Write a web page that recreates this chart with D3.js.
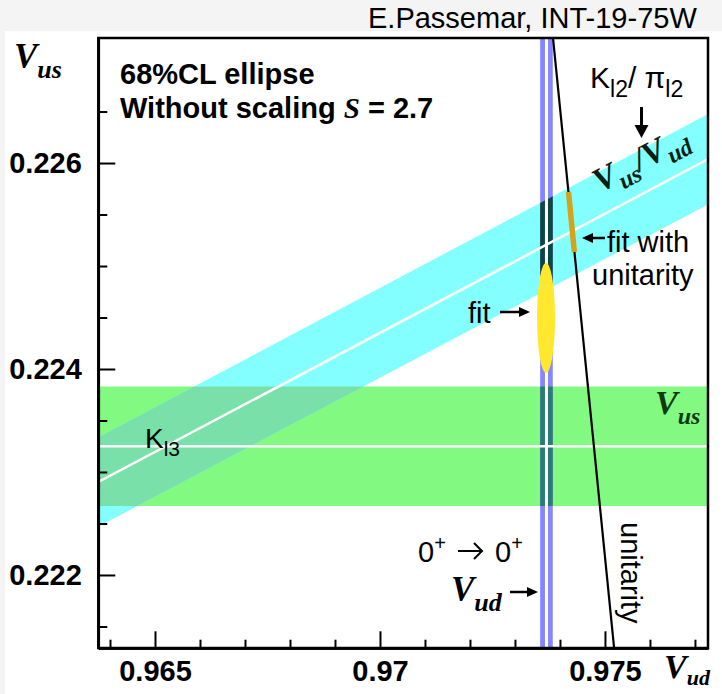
<!DOCTYPE html>
<html>
<head>
<meta charset="utf-8">
<script src="https://cdn.jsdelivr.net/npm/d3@7/dist/d3.min.js"></script>
<style>
  html, body { margin: 0; padding: 0; background: #f4f4f4; }
  svg { display: block; }
</style>
</head>
<body>
<svg id="chart" width="722" height="694"></svg>
<script>
// ---- axis ranges and ticks ----
const vudDomain = [0.96374, 0.97729];
const vusDomain = [0.221291, 0.227214];
const xMajorTicks = [0.965, 0.970, 0.975];
const xTickLabels = ["0.965", "0.97", "0.975"];
const xMinorTicks = [0.964, 0.966, 0.967, 0.968, 0.969, 0.971, 0.972, 0.973, 0.974, 0.976, 0.977];
const yMajorTicks = [0.222, 0.224, 0.226];
const yTickLabels = ["0.222", "0.224", "0.226"];
const yMinorTicks = [0.2215, 0.2225, 0.223, 0.2235, 0.2245, 0.225, 0.2255, 0.2265];

// ---- constraints: [central value, 1 sigma] ----
const kl3Vus = [0.22325, 0.00058];          // K_l3 -> |Vus|
const kl2Ratio = [0.23129, 0.00045];        // K_l2 / pi_l2 -> |Vus/Vud|
const superallowedVud = [0.97370, 0.00014]; // 0+ -> 0+ -> |Vud|

// 68% CL fit ellipse: centre [Vud, Vus] and half-axes [Vud, Vus]
const fitCenter = [0.97369, 0.224495];
const fitHalfAxes = [0.00020, 0.000534];

// unitarity line |Vud|^2 + |Vus|^2 = 1 across the window
const unitarityVud = [0.97378, 0.97527];
const unitarityVus = [0.2275, 0.2210];

// fit constrained by unitarity (segment on the unitarity line)
const unitarityFitVud = [0.97419, 0.97432];
const unitarityFitVus = [0.225718, 0.225136];

const SANS = "'Liberation Sans', Arial, Helvetica, sans-serif";
const SERIF = "'Liberation Serif', 'Times New Roman', serif";

const svg = d3.select("#chart");
svg.append("rect").attr("x", 0).attr("y", 0).attr("width", 722).attr("height", 694).attr("fill", "#f4f4f4");
svg.append("rect").attr("x", 5).attr("y", 31).attr("width", 717).attr("height", 663).attr("fill", "#ffffff");

const x = d3.scaleLinear().domain(vudDomain).range([98.3, 708]);
const y = d3.scaleLinear().domain(vusDomain).range([648, 38]);
const [xL, xR] = x.range();
const [yB, yT] = y.range();

const defs = svg.append("defs");
defs.append("clipPath").attr("id", "plotClip")
  .append("rect").attr("x", xL).attr("y", yT).attr("width", xR - xL).attr("height", yB - yT);

// band of |Vus/Vud| = r +- dr
const vEnds = [vudDomain[0] - 0.001, vudDomain[1] + 0.001];
const hi = kl2Ratio[0] + kl2Ratio[1], lo = kl2Ratio[0] - kl2Ratio[1];
const cyanPts = [[vEnds[0], hi * vEnds[0]], [vEnds[1], hi * vEnds[1]],
                 [vEnds[1], lo * vEnds[1]], [vEnds[0], lo * vEnds[0]]];
const lineXY = d3.line().x(d => x(d[0])).y(d => y(d[1]));
const cyanPath = lineXY(cyanPts) + "Z";
defs.append("clipPath").attr("id", "cyanClip").append("path").attr("d", cyanPath);

const greenY0 = y(kl3Vus[0] + kl3Vus[1]), greenY1 = y(kl3Vus[0] - kl3Vus[1]);
defs.append("clipPath").attr("id", "greenClip")
  .append("rect").attr("x", xL - 5).attr("y", greenY0).attr("width", xR - xL + 10).attr("height", greenY1 - greenY0);

const plot = svg.append("g").attr("clip-path", "url(#plotClip)");

// K_l3 band
function greenRect(g, fill) {
  g.append("rect").attr("x", xL - 5).attr("y", greenY0)
    .attr("width", xR - xL + 10).attr("height", greenY1 - greenY0).attr("fill", fill);
}
greenRect(plot, "#82fa82");
// K_l2 / pi_l2 band
plot.append("path").attr("d", cyanPath).attr("fill", "#84ffff");
greenRect(plot.append("g").attr("clip-path", "url(#cyanClip)"), "#78e0a8");

// superallowed 0+ -> 0+ band
const vx0 = x(superallowedVud[0] - superallowedVud[1]);
const vx1 = x(superallowedVud[0] + superallowedVud[1]);
function vertRect(g, fill) {
  g.append("rect").attr("x", vx0).attr("y", yT - 5).attr("width", vx1 - vx0)
    .attr("height", yB - yT + 10).attr("fill", fill);
}
vertRect(plot, "#8686ff");
vertRect(plot.append("g").attr("clip-path", "url(#cyanClip)"), "#0e4646");
vertRect(plot.append("g").attr("clip-path", "url(#greenClip)"), "#2c7c74");

// central values
plot.append("line").attr("x1", xL - 5).attr("x2", xR + 5)
  .attr("y1", y(kl3Vus[0])).attr("y2", y(kl3Vus[0]))
  .attr("stroke", "#fff").attr("stroke-width", 2.5);
plot.append("path")
  .attr("d", lineXY([[vEnds[0], kl2Ratio[0] * vEnds[0]], [vEnds[1], kl2Ratio[0] * vEnds[1]]]))
  .attr("stroke", "#fff").attr("stroke-width", 2.5).attr("fill", "none");
plot.append("line").attr("x1", x(superallowedVud[0])).attr("x2", x(superallowedVud[0]))
  .attr("y1", yT - 5).attr("y2", yB + 5).attr("stroke", "#fff").attr("stroke-width", 3);

// unitarity
plot.append("path")
  .attr("d", lineXY(d3.zip(unitarityVud, unitarityVus)))
  .attr("stroke", "#000").attr("stroke-width", 2.2).attr("fill", "none");
plot.append("path")
  .attr("d", lineXY(d3.zip(unitarityFitVud, unitarityFitVus)))
  .attr("stroke", "#d4a31c").attr("stroke-width", 5.5).attr("fill", "none");

// fit ellipse
plot.append("ellipse")
  .attr("cx", x(fitCenter[0])).attr("cy", y(fitCenter[1]))
  .attr("rx", x(fitCenter[0] + fitHalfAxes[0]) - x(fitCenter[0]))
  .attr("ry", y(fitCenter[1] - fitHalfAxes[1]) - y(fitCenter[1]))
  .attr("fill", "#ffe82e");

// ---- axes ----
function styleAxis(g) {
  g.select(".domain").attr("stroke", "#000").attr("stroke-width", 2.5);
  g.selectAll(".tick line").attr("stroke", "#000").attr("stroke-width", 2);
  g.selectAll(".tick text").attr("font-family", SANS).attr("font-size", 29)
    .attr("font-weight", "bold").attr("fill", "#000");
}
svg.append("g").attr("transform", `translate(0,${yB})`)
  .call(d3.axisBottom(x).tickValues(xMinorTicks).tickSize(-8.3).tickSizeOuter(0).tickFormat(""))
  .call(styleAxis);
svg.append("g").attr("transform", `translate(0,${yB})`)
  .call(d3.axisBottom(x).tickValues(xMajorTicks).tickSize(-16.7).tickSizeOuter(0)
    .tickPadding(12).tickFormat((d, i) => xTickLabels[i]))
  .call(styleAxis);
svg.append("g").attr("transform", `translate(${xL},0)`)
  .call(d3.axisLeft(y).tickValues(yMinorTicks).tickSize(-9).tickSizeOuter(0).tickFormat(""))
  .call(styleAxis);
svg.append("g").attr("transform", `translate(${xL},0)`)
  .call(d3.axisLeft(y).tickValues(yMajorTicks).tickSize(-17).tickSizeOuter(0)
    .tickPadding(16.5).tickFormat((d, i) => yTickLabels[i]))
  .call(styleAxis);

svg.append("rect").attr("x", xL).attr("y", yT).attr("width", xR - xL).attr("height", yB - yT)
  .attr("fill", "none").attr("stroke", "#000").attr("stroke-width", 2.5);

// ---- annotations ----
function label(x0, y0, parts, opts = {}) {
  const t = svg.append("text").attr("x", x0).attr("y", y0).attr("fill", opts.fill || "#000");
  if (opts.transform) t.attr("transform", opts.transform);
  let shift = 0;
  parts.forEach(p => {
    const s = t.append("tspan").text(p.t)
      .attr("font-size", p.size || 29)
      .attr("font-family", p.serif ? SERIF : SANS)
      .attr("font-weight", p.bold ? "bold" : "normal")
      .attr("font-style", p.italic ? "italic" : "normal");
    const sh = p.sh || 0;
    if (sh !== shift) s.attr("dy", sh - shift);
    shift = sh;
    if (p.dx) s.attr("dx", p.dx);
    if (p.fill) s.attr("fill", p.fill);
  });
  return t;
}
function arrow(x1, y1, x2, y2, w, len, half) {
  const a = Math.atan2(y2 - y1, x2 - x1);
  const bx = x2 - len * Math.cos(a), by = y2 - len * Math.sin(a);
  svg.append("line").attr("x1", x1).attr("y1", y1).attr("x2", bx).attr("y2", by)
    .attr("stroke", "#000").attr("stroke-width", w);
  const px = -Math.sin(a) * half, py = Math.cos(a) * half;
  svg.append("path")
    .attr("d", `M${x2},${y2}L${bx + px},${by + py}L${bx - px},${by - py}Z`)
    .attr("fill", "#000");
}
const V = (t, size) => ({ t, size, serif: true, bold: true, italic: true });
const sub = (t, size, sh) => ({ t, size, sh, serif: true, bold: true, italic: true });

label(368, 28, [{ t: "E.Passemar, INT-19-75W" }]);
label(14, 68, [V("V", 35), sub("us", 26, 10)]);
label(120, 84, [{ t: "68%CL ellipse", bold: true }]);
label(120, 118, [{ t: "Without scaling ", bold: true }, V("S", 29), { t: " = 2.7", bold: true }]);

label(590, 88, [{ t: "K", size: 30 }, { t: "l2", size: 23, sh: 9 }, { t: "/ π", size: 30, sh: 0 }, { t: "l2", size: 23, sh: 9 }]);
arrow(641.5, 107, 641.5, 138, 3, 13, 7);
label(0, 0, [V("V", 34), sub("us", 24, 8), { t: "/", size: 34, serif: true, bold: true, italic: true, sh: 0 }, V("V", 34), sub("ud", 24, 8)],
  { transform: "translate(600,193) rotate(-28)", fill: "#0a1f14" });

arrow(605, 238, 582, 238, 2.5, 11, 5);
label(607, 252, [{ t: "fit with" }]);
label(592, 285, [{ t: "unitarity" }]);

label(468, 323, [{ t: "fit" }]);
arrow(500, 312, 530, 312, 2.5, 11, 5);

label(145, 448, [{ t: "K", size: 28 }, { t: "l3", size: 21, sh: 8 }]);
label(655, 414, [V("V", 34), sub("us", 24, 10)], { fill: "#0f3a0f" });

label(418, 562, [{ t: "0" }, { t: "+", size: 20, sh: -12 }]);
label(495, 562, [{ t: "0" }, { t: "+", size: 20, sh: -12 }]);
svg.append("path").attr("d", "M458,551H482M474,543L482,551L474,559")
  .attr("stroke", "#000").attr("stroke-width", 2).attr("fill", "none");

label(451, 601, [V("V", 35), sub("ud", 26, 10)]);
arrow(510, 592, 538, 592, 2.5, 11, 5);

label(0, 0, [{ t: "unitarity" }], { transform: "translate(621,522) rotate(90)" });
label(664, 678, [V("V", 34), sub("ud", 22, 7)]);
</script>
</body>
</html>
